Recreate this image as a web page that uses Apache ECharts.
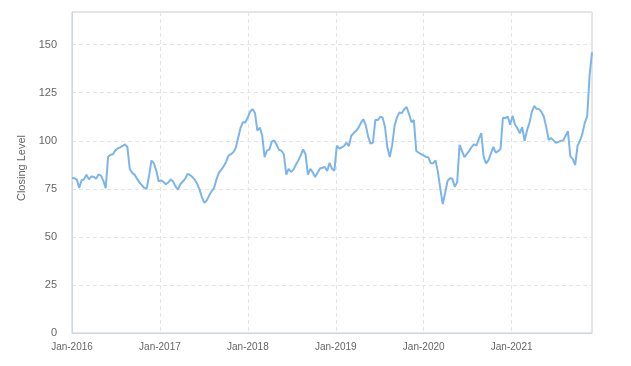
<!DOCTYPE html>
<html>
<head>
<meta charset="utf-8">
<script src="https://cdn.jsdelivr.net/npm/echarts@6/dist/echarts.min.js"></script>
<style>
html,body{margin:0;padding:0;background:#fff;}
#chart{width:631px;height:366px;}
</style>
</head>
<body>
<div id="chart"></div>
<script>
// Series: closing level, one reading every 10 days starting 2016-01-01
const startDate = Date.UTC(2016, 0, 1, 12);
const stepDays = 10;
const closingLevels = [
  80.6, 80.5, 79.8, 75.5, 79.6, 79.9, 82.4, 79.9, 81.4, 81.3,
  80.2, 82.5, 81.9, 79.3, 75.4, 91.7, 92.7, 93, 95, 96,
  96.6, 97.3, 98.1, 96.8, 85.3, 83.3, 82.4, 80.3, 78.3, 76.9,
  75.6, 75, 81.8, 89.8, 88.3, 84.5, 78.9, 79.4, 78.6, 77.4,
  78.3, 79.9, 78.8, 76.3, 74.6, 77.4, 78.8, 80.2, 82.8, 82.2,
  81.2, 79.7, 77.6, 74.6, 70.5, 67.7, 69, 71.6, 73.8, 75.4,
  79.9, 83.3, 85, 86.7, 89, 92.3, 93, 94, 96.2, 101.4,
  106.7, 109.7, 109.5, 112.1, 115.2, 116.5, 114.5, 105.3, 106.9, 102.8,
  91.5, 95, 95.4, 99.6, 100.2, 97.9, 95.3, 94.8, 93, 82.4,
  85.4, 83.8, 85, 87.5, 89.8, 92.4, 95.5, 93, 82.4, 85.4,
  83.6, 81.2, 83.3, 85.6, 86, 86.4, 84.3, 88.5, 85.4, 84.5,
  97.5, 96, 96.5, 97.3, 99, 97.2, 102.6, 104, 105.2, 106.8,
  109.3, 111.2, 108.3, 102.3, 98.5, 99, 110.9, 110.7, 112.5, 112.1,
  107.3, 96.5, 91.5, 97.9, 107.9, 112.2, 114.8, 114.4, 116.4, 117.6,
  114, 109.6, 110.8, 94.7, 93.8, 93.1, 92.4, 91.6, 91.5, 88.3,
  88.3, 89.8, 83.7, 75, 67, 73, 79.1, 80.5, 80.2, 76.1,
  78.5, 97.9, 94.6, 91.5, 93.2, 94.8, 96.8, 98.2, 97.4, 101,
  104, 91.6, 88.3, 89.9, 93.3, 96.8, 93.8, 94.6, 95.7, 112,
  111.9, 112.6, 108.3, 113, 108.5, 106.5, 103.9, 107.1, 100, 105.4,
  109.2, 115, 118.1, 116.6, 116.5, 115, 112.5, 107.1, 100.5, 101.4,
  100.2, 99, 99.4, 100, 100.1, 102.6, 105, 91.9, 90.6, 87.4,
  97.4, 100, 103.6, 109.3, 112.8, 134, 146
];
const yAxisTitle = 'Closing Level';
const monthLabel = 'Jan';

const DAY = 86400000;
const YEAR = 365.25 * DAY;
const seriesData = closingLevels.map(function (v, i) {
  return [startDate + i * stepDays * DAY, v];
});

const chart = echarts.init(document.getElementById('chart'), null, {renderer: 'canvas'});
const labelFont = 'Liberation Sans, Arial, sans-serif';
chart.setOption({
  animation: false,
  backgroundColor: '#fff',
  grid: {
    left: 72, right: 39, top: 12, bottom: 33,
    show: true, borderColor: '#ccc', borderWidth: 1, containLabel: false
  },
  xAxis: {
    type: 'value',
    min: startDate,
    max: 'dataMax',
    interval: YEAR,
    axisLine: {show: true, lineStyle: {color: '#ccd6eb'}},
    axisTick: {show: false},
    axisLabel: {
      color: '#666', fontSize: 10, fontFamily: labelFont, margin: 9,
      showMaxLabel: false,
      formatter: function (v) {
        return monthLabel + '-' + new Date(v + 2 * DAY).getUTCFullYear();
      }
    },
    splitLine: {show: true, lineStyle: {color: '#e3e3e3', type: [4, 3]}}
  },
  yAxis: {
    type: 'value',
    min: 0,
    max: 167,
    interval: 25,
    name: yAxisTitle,
    nameLocation: 'middle',
    nameGap: 41,
    nameTextStyle: {color: '#666', fontSize: 11, fontFamily: labelFont, padding: [0, 0, 0, 9]},
    axisLine: {show: true, lineStyle: {color: '#ccd6eb'}},
    axisTick: {show: false},
    axisLabel: {color: '#666', fontSize: 11, fontFamily: labelFont, margin: 15, showMaxLabel: false},
    splitLine: {show: true, lineStyle: {color: '#e3e3e3', type: [4, 3]}}
  },
  series: [{
    type: 'line',
    data: seriesData,
    showSymbol: false,
    symbol: 'none',
    lineStyle: {color: '#7cb5ec', width: 2},
    itemStyle: {color: '#7cb5ec'}
  }]
});
</script>
</body>
</html>
